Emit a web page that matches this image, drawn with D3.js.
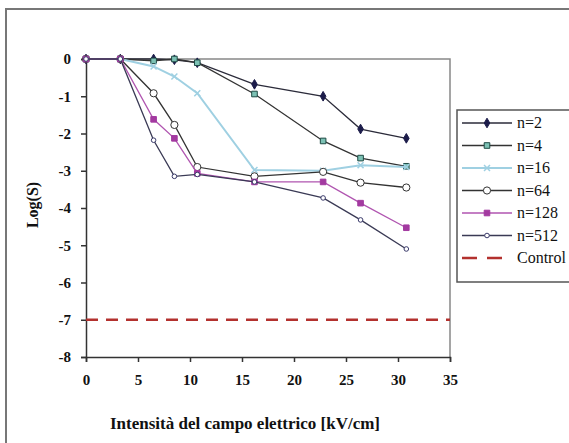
<!DOCTYPE html>
<html>
<head>
<meta charset="utf-8">
<script src="https://cdn.jsdelivr.net/npm/d3@7"></script>
<style>
  body { margin: 0; background: #fff; }
  svg { display: block; }
</style>
</head>
<body>
<svg id="chart"></svg>
<script>
// valori
const campo = [0, 3.3, 6.5, 8.5, 10.7, 16.2, 22.8, 26.4, 30.8];
const n2   = [0, 0, 0, -0.02, -0.1, -0.68, -1.0, -1.88, -2.13];
const n4   = [0, 0, -0.05, 0, -0.1, -0.94, -2.2, -2.66, -2.88];
const n16  = [0, 0, -0.2, -0.47, -0.92, -2.98, -3.0, -2.85, -2.9];
const n64  = [0, 0, -0.92, -1.77, -2.9, -3.15, -3.03, -3.32, -3.45];
const n128 = [0, 0, -1.62, -2.13, -3.07, -3.3, -3.3, -3.87, -4.53];
const n512 = [0, 0, -2.18, -3.15, -3.1, -3.3, -3.73, -4.32, -5.1];
const controllo = -7;
const xTicks = [0, 5, 10, 15, 20, 25, 30, 35];
const yTicks = [0, -1, -2, -3, -4, -5, -6, -7, -8];

const serie = [
  { nome: 'n=2',   valori: n2,   linea: '#2b2b3a', simbolo: 'diamond', fill: '#1c1c4a', stroke: '#1c1c4a', r: 2.6 },
  { nome: 'n=4',   valori: n4,   linea: '#333',    simbolo: 'square',  fill: '#7cc1b4', stroke: '#1f4a44', r: 2.8 },
  { nome: 'n=16',  valori: n16,  linea: '#9fd0e2', simbolo: 'cross',   fill: 'none',    stroke: '#9fd0e2', r: 2.5 },
  { nome: 'n=64',  valori: n64,  linea: '#333',    simbolo: 'circle',  fill: '#fff',    stroke: '#333',    r: 3.6 },
  { nome: 'n=128', valori: n128, linea: '#b055b0', simbolo: 'square',  fill: '#a33aa0', stroke: '#a33aa0', r: 2.8 },
  { nome: 'n=512', valori: n512, linea: '#3a3a55', simbolo: 'circle',  fill: '#fff',    stroke: '#3a3a6a', r: 2.3 }
];

const width = 569, height = 443;
const margin = { top: 59, left: 86 };
const innerW = 364, innerH = 298;

const svg = d3.select('#chart').attr('width', width).attr('height', height);

// cornice esterna
svg.append('rect')
  .attr('x', 6).attr('y', 9).attr('width', 600).attr('height', 500)
  .attr('fill', 'none').attr('stroke', '#777').attr('stroke-width', 2);

const g = svg.append('g').attr('transform', `translate(${margin.left},${margin.top})`);

const x = d3.scaleLinear().domain([0, 35]).range([0, innerW]);
const y = d3.scaleLinear().domain([-8, 0]).range([innerH, 0]);

// bordo area del grafico
g.append('path')
  .attr('d', `M0,0H${innerW}V${innerH}`)
  .attr('fill', 'none').attr('stroke', '#888').attr('stroke-width', 1.5);

const fontAssi = '"Liberation Serif", "DejaVu Serif", serif';

const xAxis = g.append('g')
  .attr('transform', `translate(0,${innerH})`)
  .call(d3.axisBottom(x).tickValues(xTicks).tickSize(5).tickPadding(12).tickFormat(d3.format('d')));
const yAxis = g.append('g')
  .call(d3.axisLeft(y).tickValues(yTicks).tickSize(5).tickPadding(10).tickFormat(d => d === 0 ? '0' : '-' + Math.abs(d)));

[xAxis, yAxis].forEach(a => {
  a.select('.domain').attr('stroke', '#333').attr('stroke-width', 1.5);
  a.selectAll('.tick line').attr('stroke', '#333').attr('stroke-width', 1.5);
  a.selectAll('.tick text')
    .attr('fill', '#111')
    .style('font-family', fontAssi)
    .style('font-weight', 'bold')
    .style('font-size', '15px');
});

// titoli degli assi
g.append('text')
  .attr('x', 159).attr('y', innerH + 72)
  .attr('text-anchor', 'middle')
  .style('font-family', fontAssi).style('font-weight', 'bold').style('font-size', '17px')
  .attr('fill', '#111')
  .text('Intensità del campo elettrico [kV/cm]');

g.append('text')
  .attr('transform', `translate(-48,${innerH / 2 - 3}) rotate(-90)`)
  .attr('text-anchor', 'middle')
  .style('font-family', fontAssi).style('font-weight', 'bold').style('font-size', '16px')
  .attr('fill', '#111')
  .text('Log(S)');

// linea di controllo
g.append('line')
  .attr('x1', x(0)).attr('x2', x(35))
  .attr('y1', y(controllo)).attr('y2', y(controllo))
  .attr('stroke', '#b3312e').attr('stroke-width', 2.5)
  .attr('stroke-dasharray', '12,8');

const simboli = {
  diamond: d3.symbolDiamond, square: d3.symbolSquare, circle: d3.symbolCircle, cross: d3.symbolX
};

function disegnaSimbolo(sel, s, cx, cy) {
  const area = s.simbolo === 'circle' ? Math.PI * s.r * s.r : (s.r * 2) * (s.r * 2);
  sel.append('path')
    .attr('transform', `translate(${cx},${cy})`)
    .attr('d', d3.symbol().type(simboli[s.simbolo]).size(area)())
    .attr('fill', s.fill)
    .attr('stroke', s.stroke)
    .attr('stroke-width', s.simbolo === 'cross' ? 1.5 : 1);
}

serie.forEach(s => {
  const punti = campo.map((c, i) => [c, s.valori[i]]);
  const line = d3.line().x(d => x(d[0])).y(d => y(d[1]));
  g.append('path')
    .datum(punti)
    .attr('fill', 'none')
    .attr('stroke', s.linea)
    .attr('stroke-width', s.simbolo === 'cross' ? 2 : 1.3)
    .attr('d', line);
  const mg = g.append('g');
  punti.forEach(p => disegnaSimbolo(mg, s, x(p[0]), y(p[1])));
});

// legenda
const leg = svg.append('g').attr('transform', 'translate(457,110)');
leg.append('rect')
  .attr('width', 130).attr('height', 172)
  .attr('fill', '#fff').attr('stroke', '#555').attr('stroke-width', 1.5);

const vociLegenda = serie.map(s => s.nome).concat(['Control']);
vociLegenda.forEach((nome, i) => {
  const row = leg.append('g').attr('transform', `translate(0,${13 + i * 22.5})`);
  const s = serie[i];
  if (s) {
    row.append('line')
      .attr('x1', 5).attr('x2', 55)
      .attr('stroke', s.linea).attr('stroke-width', s.simbolo === 'cross' ? 2 : 1.3);
    disegnaSimbolo(row, s, 30, 0);
  } else {
    row.append('line')
      .attr('x1', 5).attr('x2', 55)
      .attr('stroke', '#b3312e').attr('stroke-width', 2.5)
      .attr('stroke-dasharray', '15,10');
  }
  row.append('text')
    .attr('x', 60).attr('y', 5)
    .style('font-family', fontAssi).style('font-size', '16px')
    .attr('fill', '#111')
    .text(nome);
});
</script>
</body>
</html>
